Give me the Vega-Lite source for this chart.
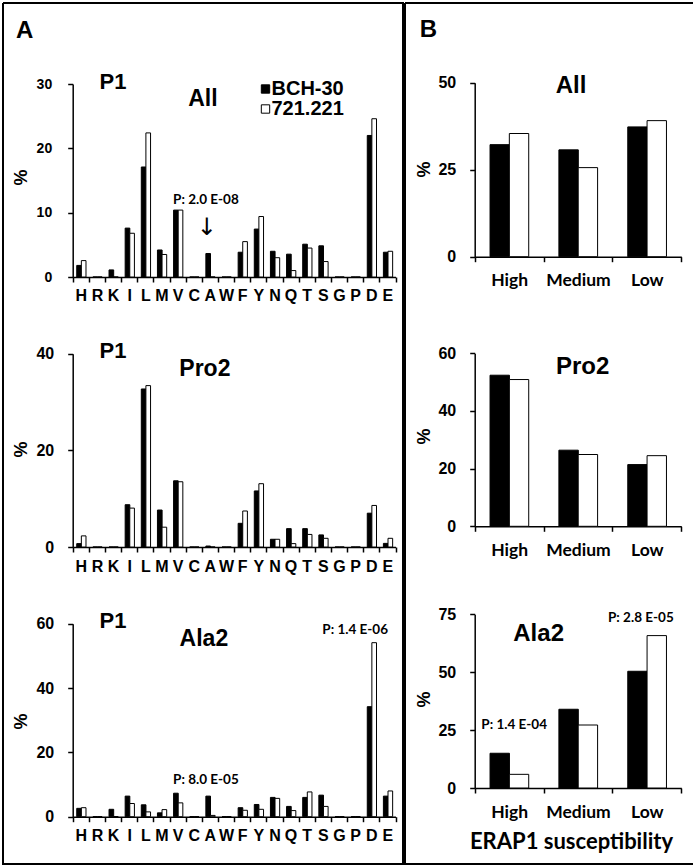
{
  "$schema": "https://vega.github.io/schema/vega-lite/v6.json",
  "padding": {"left": 2, "top": 2, "right": 0, "bottom": 0},
  "background": "white",
  "datasets": {
    "a_all": [
      {"aa":"H","strain":"BCH-30","pct":1.8},{"aa":"H","strain":"721.221","pct":2.55},
      {"aa":"R","strain":"BCH-30","pct":0},{"aa":"R","strain":"721.221","pct":0},
      {"aa":"K","strain":"BCH-30","pct":1.1},{"aa":"K","strain":"721.221","pct":0},
      {"aa":"I","strain":"BCH-30","pct":7.6},{"aa":"I","strain":"721.221","pct":6.8},
      {"aa":"L","strain":"BCH-30","pct":17.1},{"aa":"L","strain":"721.221","pct":22.4},
      {"aa":"M","strain":"BCH-30","pct":4.2},{"aa":"M","strain":"721.221","pct":3.5},
      {"aa":"V","strain":"BCH-30","pct":10.4},{"aa":"V","strain":"721.221","pct":10.4},
      {"aa":"C","strain":"BCH-30","pct":0},{"aa":"C","strain":"721.221","pct":0},
      {"aa":"A","strain":"BCH-30","pct":3.65},{"aa":"A","strain":"721.221","pct":0},
      {"aa":"W","strain":"BCH-30","pct":0},{"aa":"W","strain":"721.221","pct":0},
      {"aa":"F","strain":"BCH-30","pct":3.85},{"aa":"F","strain":"721.221","pct":5.5},
      {"aa":"Y","strain":"BCH-30","pct":7.45},{"aa":"Y","strain":"721.221","pct":9.4},
      {"aa":"N","strain":"BCH-30","pct":4.0},{"aa":"N","strain":"721.221","pct":3.0},
      {"aa":"Q","strain":"BCH-30","pct":3.55},{"aa":"Q","strain":"721.221","pct":1.0},
      {"aa":"T","strain":"BCH-30","pct":5.1},{"aa":"T","strain":"721.221","pct":4.5},
      {"aa":"S","strain":"BCH-30","pct":4.85},{"aa":"S","strain":"721.221","pct":2.4},
      {"aa":"G","strain":"BCH-30","pct":0},{"aa":"G","strain":"721.221","pct":0},
      {"aa":"P","strain":"BCH-30","pct":0},{"aa":"P","strain":"721.221","pct":0},
      {"aa":"D","strain":"BCH-30","pct":22.0},{"aa":"D","strain":"721.221","pct":24.6},
      {"aa":"E","strain":"BCH-30","pct":3.85},{"aa":"E","strain":"721.221","pct":4.0}
    ],
    "a_pro2": [
      {"aa":"H","strain":"BCH-30","pct":0.7},{"aa":"H","strain":"721.221","pct":2.3},
      {"aa":"R","strain":"BCH-30","pct":0},{"aa":"R","strain":"721.221","pct":0},
      {"aa":"K","strain":"BCH-30","pct":0},{"aa":"K","strain":"721.221","pct":0},
      {"aa":"I","strain":"BCH-30","pct":8.75},{"aa":"I","strain":"721.221","pct":8.05},
      {"aa":"L","strain":"BCH-30","pct":32.7},{"aa":"L","strain":"721.221","pct":33.4},
      {"aa":"M","strain":"BCH-30","pct":7.65},{"aa":"M","strain":"721.221","pct":4.1},
      {"aa":"V","strain":"BCH-30","pct":13.7},{"aa":"V","strain":"721.221","pct":13.5},
      {"aa":"C","strain":"BCH-30","pct":0},{"aa":"C","strain":"721.221","pct":0},
      {"aa":"A","strain":"BCH-30","pct":0.2},{"aa":"A","strain":"721.221","pct":0},
      {"aa":"W","strain":"BCH-30","pct":0},{"aa":"W","strain":"721.221","pct":0},
      {"aa":"F","strain":"BCH-30","pct":4.9},{"aa":"F","strain":"721.221","pct":7.45},
      {"aa":"Y","strain":"BCH-30","pct":11.6},{"aa":"Y","strain":"721.221","pct":13.1},
      {"aa":"N","strain":"BCH-30","pct":1.6},{"aa":"N","strain":"721.221","pct":1.6},
      {"aa":"Q","strain":"BCH-30","pct":3.8},{"aa":"Q","strain":"721.221","pct":0.7},
      {"aa":"T","strain":"BCH-30","pct":3.8},{"aa":"T","strain":"721.221","pct":2.6},
      {"aa":"S","strain":"BCH-30","pct":2.5},{"aa":"S","strain":"721.221","pct":1.8},
      {"aa":"G","strain":"BCH-30","pct":0},{"aa":"G","strain":"721.221","pct":0},
      {"aa":"P","strain":"BCH-30","pct":0},{"aa":"P","strain":"721.221","pct":0},
      {"aa":"D","strain":"BCH-30","pct":7.0},{"aa":"D","strain":"721.221","pct":8.6},
      {"aa":"E","strain":"BCH-30","pct":0.75},{"aa":"E","strain":"721.221","pct":1.8}
    ],
    "a_ala2": [
      {"aa":"H","strain":"BCH-30","pct":2.6},{"aa":"H","strain":"721.221","pct":2.8},
      {"aa":"R","strain":"BCH-30","pct":0},{"aa":"R","strain":"721.221","pct":0},
      {"aa":"K","strain":"BCH-30","pct":2.3},{"aa":"K","strain":"721.221","pct":0},
      {"aa":"I","strain":"BCH-30","pct":6.4},{"aa":"I","strain":"721.221","pct":4.1},
      {"aa":"L","strain":"BCH-30","pct":3.7},{"aa":"L","strain":"721.221","pct":1.5},
      {"aa":"M","strain":"BCH-30","pct":1.2},{"aa":"M","strain":"721.221","pct":2.2},
      {"aa":"V","strain":"BCH-30","pct":7.3},{"aa":"V","strain":"721.221","pct":4.3},
      {"aa":"C","strain":"BCH-30","pct":0},{"aa":"C","strain":"721.221","pct":0},
      {"aa":"A","strain":"BCH-30","pct":6.4},{"aa":"A","strain":"721.221","pct":0.4},
      {"aa":"W","strain":"BCH-30","pct":0},{"aa":"W","strain":"721.221","pct":0},
      {"aa":"F","strain":"BCH-30","pct":2.8},{"aa":"F","strain":"721.221","pct":2.0},
      {"aa":"Y","strain":"BCH-30","pct":3.8},{"aa":"Y","strain":"721.221","pct":2.3},
      {"aa":"N","strain":"BCH-30","pct":6.0},{"aa":"N","strain":"721.221","pct":5.7},
      {"aa":"Q","strain":"BCH-30","pct":3.2},{"aa":"Q","strain":"721.221","pct":1.9},
      {"aa":"T","strain":"BCH-30","pct":6.0},{"aa":"T","strain":"721.221","pct":7.7},
      {"aa":"S","strain":"BCH-30","pct":6.7},{"aa":"S","strain":"721.221","pct":3.2},
      {"aa":"G","strain":"BCH-30","pct":0},{"aa":"G","strain":"721.221","pct":0},
      {"aa":"P","strain":"BCH-30","pct":0},{"aa":"P","strain":"721.221","pct":0},
      {"aa":"D","strain":"BCH-30","pct":34.2},{"aa":"D","strain":"721.221","pct":54.1},
      {"aa":"E","strain":"BCH-30","pct":6.4},{"aa":"E","strain":"721.221","pct":8.0}
    ],
    "b_all": [
      {"grp":"High","strain":"BCH-30","pct":32.2},{"grp":"High","strain":"721.221","pct":35.4},
      {"grp":"Medium","strain":"BCH-30","pct":30.7},{"grp":"Medium","strain":"721.221","pct":25.6},
      {"grp":"Low","strain":"BCH-30","pct":37.3},{"grp":"Low","strain":"721.221","pct":39.1}
    ],
    "b_pro2": [
      {"grp":"High","strain":"BCH-30","pct":52.4},{"grp":"High","strain":"721.221","pct":50.9},
      {"grp":"Medium","strain":"BCH-30","pct":26.4},{"grp":"Medium","strain":"721.221","pct":24.9},
      {"grp":"Low","strain":"BCH-30","pct":21.4},{"grp":"Low","strain":"721.221","pct":24.5}
    ],
    "b_ala2": [
      {"grp":"High","strain":"BCH-30","pct":15.0},{"grp":"High","strain":"721.221","pct":5.9},
      {"grp":"Medium","strain":"BCH-30","pct":34.0},{"grp":"Medium","strain":"721.221","pct":27.2},
      {"grp":"Low","strain":"BCH-30","pct":50.4},{"grp":"Low","strain":"721.221","pct":65.8}
    ]
  },
  "config": {
    "view": {"stroke": null},
    "concat": {"spacing": 0},
    "axis": {
      "grid": false, "domainColor": "black", "tickColor": "black", "labelColor": "black", "titleColor": "black",
      "labelFont": "Liberation Sans", "labelFontWeight": "bold", "titleFont": "Liberation Sans", "titleFontWeight": "bold",
      "domainWidth": 1.5, "tickWidth": 1.5, "tickSize": 5
    },
    "text": {"font": "Liberation Sans", "fontWeight": "bold", "color": "black"},
    "legend": {"labelFont": "Liberation Sans", "labelFontWeight": "bold", "labelColor": "black"}
  },
  "hconcat": [
    {
      "bounds": "flush",
      "spacing": 0,
      "resolve": {"scale": {"color": "independent"}, "legend": {"color": "independent"}},
      "vconcat": [
        {
          "width": 400, "height": 318,
          "view": {"stroke": "black", "strokeWidth": 2, "strokeDash": [718, 400, 318, 0]},
          "encoding": {
            "x": {"field": "aa", "type": "nominal", "scale": {"domain": ["H","R","K","I","L","M","V","C","A","W","F","Y","N","Q","T","S","G","P","D","E"], "range": [69.7, 392.5], "paddingInner": 0, "paddingOuter": 0},
                  "axis": {"title": null, "labelAngle": 0, "offset": -44, "tickBand": "extent", "labelFontSize": 16, "labelPadding": 5}},
            "y": {"field": "pct", "type": "quantitative", "scale": {"domain": [0, 30], "range": [274, 81], "nice": false},
                  "axis": {"values": [0,10,20,30], "offset": -69.7, "title": "%", "titleX": -51, "titleY": 174, "titleBaseline": "middle", "titleAlign": "center", "titleFontSize": 18, "labelFontSize": 14, "labelPadding": 16}}
          },
          "layer": [
            {
              "data": {"name": "a_all"},
              "transform": [{"filter": "datum.strain === 'BCH-30'"}],
              "mark": {"type": "bar", "stroke": "black", "strokeWidth": 1, "width": {"band": 0.288}, "xOffset": -1.7},
              "encoding": {
                "color": {"field": "strain", "type": "nominal", "scale": {"domain": ["BCH-30","721.221"], "range": ["#000000","#ffffff"]},
                          "legend": {"orient": "none", "legendX": 244.5, "legendY": 76, "title": null, "labelFontSize": 20, "symbolType": "square", "symbolSize": 70, "symbolOffset": 8, "symbolStrokeColor": "black", "symbolStrokeWidth": 1, "rowPadding": 0, "labelOffset": -4}}
              }
            },
            {
              "data": {"name": "a_all"},
              "transform": [{"filter": "datum.strain === '721.221'"}],
              "mark": {"type": "bar", "stroke": "black", "strokeWidth": 1, "width": {"band": 0.288}, "xOffset": 2.9},
              "encoding": {
                "color": {"field": "strain", "type": "nominal", "scale": {"domain": ["BCH-30","721.221"], "range": ["#000000","#ffffff"]},
                          "legend": {"orient": "none", "legendX": 244.5, "legendY": 76, "title": null, "labelFontSize": 20, "symbolType": "square", "symbolSize": 70, "symbolOffset": 8, "symbolStrokeColor": "black", "symbolStrokeWidth": 1, "rowPadding": 0, "labelOffset": -4}}
              }
            },
            {
              "data": {"values": [{"aa": "K", "pct": 29.3, "t": "P1"}]},
              "mark": {"type": "text", "fontSize": 22, "baseline": "alphabetic"},
              "encoding": {"text": {"field": "t"}}
            },
            {
              "data": {"values": [{"aa": "A", "pct": 26.6, "t": "All"}]},
              "mark": {"type": "text", "fontSize": 23, "baseline": "alphabetic", "dx": -7},
              "encoding": {"text": {"field": "t"}}
            },
            {
              "data": {"values": [{"aa": "H", "pct": 37.2, "t": "A"}]},
              "mark": {"type": "text", "fontSize": 24, "baseline": "alphabetic", "dx": -56},
              "encoding": {"text": {"field": "t"}}
            },
            {
              "data": {"values": [{"aa": "A", "pct": 11.35, "t": "P: 2.0 E-08"}]},
              "mark": {"type": "text", "font": "Lato", "fontSize": 13.5, "baseline": "alphabetic", "dx": -4},
              "encoding": {"text": {"field": "t"}}
            },
            {
              "data": {"values": [{"aa": "A", "pct": 7.54, "t": "↓"}]},
              "mark": {"type": "text", "font": "DejaVu Sans", "fontWeight": "normal", "fontSize": 24, "baseline": "middle", "dx": -3},
              "encoding": {"text": {"field": "t"}}
            }
          ]
        },
        {
          "width": 400, "height": 270,
          "view": {"stroke": "black", "strokeWidth": 2, "strokeDash": [0, 400, 270, 400, 270, 0]},
          "encoding": {
            "x": {"field": "aa", "type": "nominal", "scale": {"domain": ["H","R","K","I","L","M","V","C","A","W","F","Y","N","Q","T","S","G","P","D","E"], "range": [69.7, 392.5], "paddingInner": 0, "paddingOuter": 0},
                  "axis": {"title": null, "labelAngle": 0, "offset": -44, "tickBand": "extent", "labelFontSize": 16, "labelPadding": 6}},
            "y": {"field": "pct", "type": "quantitative", "scale": {"domain": [0, 40], "range": [226, 32.7], "nice": false},
                  "axis": {"values": [0,20,40], "offset": -69.7, "title": "%", "titleX": -51, "titleY": 128, "titleBaseline": "middle", "titleAlign": "center", "titleFontSize": 18, "labelFontSize": 16, "labelPadding": 14}}
          },
          "layer": [
            {
              "data": {"name": "a_pro2"},
              "transform": [{"filter": "datum.strain === 'BCH-30'"}],
              "mark": {"type": "bar", "stroke": "black", "strokeWidth": 1, "width": {"band": 0.288}, "xOffset": -1.7},
              "encoding": {"color": {"field": "strain", "type": "nominal", "scale": {"domain": ["BCH-30","721.221"], "range": ["#000000","#ffffff"]}, "legend": null}}
            },
            {
              "data": {"name": "a_pro2"},
              "transform": [{"filter": "datum.strain === '721.221'"}],
              "mark": {"type": "bar", "stroke": "black", "strokeWidth": 1, "width": {"band": 0.288}, "xOffset": 2.9},
              "encoding": {"color": {"field": "strain", "type": "nominal", "scale": {"domain": ["BCH-30","721.221"], "range": ["#000000","#ffffff"]}, "legend": null}}
            },
            {
              "data": {"values": [{"aa": "K", "pct": 39.2, "t": "P1"}]},
              "mark": {"type": "text", "fontSize": 22, "baseline": "alphabetic"},
              "encoding": {"text": {"field": "t"}}
            },
            {
              "data": {"values": [{"aa": "A", "pct": 35.4, "t": "Pro2"}]},
              "mark": {"type": "text", "fontSize": 23, "baseline": "alphabetic", "dx": -5},
              "encoding": {"text": {"field": "t"}}
            }
          ]
        },
        {
          "width": 400, "height": 273,
          "view": {"stroke": "black", "strokeWidth": 2, "strokeDash": [0, 400, 946, 0]},
          "encoding": {
            "x": {"field": "aa", "type": "nominal", "scale": {"domain": ["H","R","K","I","L","M","V","C","A","W","F","Y","N","Q","T","S","G","P","D","E"], "range": [69.7, 392.5], "paddingInner": 0, "paddingOuter": 0},
                  "axis": {"title": null, "labelAngle": 0, "offset": -47.3, "tickBand": "extent", "labelFontSize": 16, "labelPadding": 6}},
            "y": {"field": "pct", "type": "quantitative", "scale": {"domain": [0, 60], "range": [225.7, 32.7], "nice": false},
                  "axis": {"values": [0,20,40,60], "offset": -69.7, "title": "%", "titleX": -51, "titleY": 130, "titleBaseline": "middle", "titleAlign": "center", "titleFontSize": 18, "labelFontSize": 16, "labelPadding": 14}}
          },
          "layer": [
            {
              "data": {"name": "a_ala2"},
              "transform": [{"filter": "datum.strain === 'BCH-30'"}],
              "mark": {"type": "bar", "stroke": "black", "strokeWidth": 1, "width": {"band": 0.288}, "xOffset": -1.7},
              "encoding": {"color": {"field": "strain", "type": "nominal", "scale": {"domain": ["BCH-30","721.221"], "range": ["#000000","#ffffff"]}, "legend": null}}
            },
            {
              "data": {"name": "a_ala2"},
              "transform": [{"filter": "datum.strain === '721.221'"}],
              "mark": {"type": "bar", "stroke": "black", "strokeWidth": 1, "width": {"band": 0.288}, "xOffset": 2.9},
              "encoding": {"color": {"field": "strain", "type": "nominal", "scale": {"domain": ["BCH-30","721.221"], "range": ["#000000","#ffffff"]}, "legend": null}}
            },
            {
              "data": {"values": [{"aa": "K", "pct": 58.8, "t": "P1"}]},
              "mark": {"type": "text", "fontSize": 22, "baseline": "alphabetic"},
              "encoding": {"text": {"field": "t"}}
            },
            {
              "data": {"values": [{"aa": "A", "pct": 53.1, "t": "Ala2"}]},
              "mark": {"type": "text", "fontSize": 23, "baseline": "alphabetic", "dx": -6},
              "encoding": {"text": {"field": "t"}}
            },
            {
              "data": {"values": [{"aa": "A", "pct": 10.3, "t": "P: 8.0 E-05"}]},
              "mark": {"type": "text", "font": "Lato", "fontSize": 13.5, "baseline": "alphabetic", "dx": -4},
              "encoding": {"text": {"field": "t"}}
            },
            {
              "data": {"values": [{"aa": "P", "pct": 56.9, "t": "P: 1.4 E-06"}]},
              "mark": {"type": "text", "font": "Lato", "fontSize": 13.5, "baseline": "alphabetic"},
              "encoding": {"text": {"field": "t"}}
            }
          ]
        }
      ]
    },
    {
      "bounds": "flush",
      "spacing": 0,
      "resolve": {"scale": {"color": "independent"}, "legend": {"color": "independent"}},
      "vconcat": [
        {
          "width": 289, "height": 318,
          "view": {"stroke": "black", "strokeWidth": 2, "strokeDash": [607, 289, 318, 0]},
          "encoding": {
            "x": {"field": "grp", "type": "nominal", "scale": {"domain": ["High","Medium","Low"], "range": [69.7, 276.3], "paddingInner": 0, "paddingOuter": 0},
                  "axis": {"title": null, "labelAngle": 0, "offset": -64.3, "tickBand": "extent", "labelFont": "Lato", "labelFontSize": 17.5, "labelPadding": 10}},
            "y": {"field": "pct", "type": "quantitative", "scale": {"domain": [0, 50], "range": [253.7, 79.7], "nice": false},
                  "axis": {"values": [0,25,50], "offset": -69.7, "title": "%", "titleX": -50, "titleY": 166, "titleBaseline": "middle", "titleAlign": "center", "titleFontSize": 18, "labelFontSize": 16, "labelPadding": 14}}
          },
          "layer": [
            {
              "data": {"name": "b_all"},
              "transform": [{"filter": "datum.strain === 'BCH-30'"}],
              "mark": {"type": "bar", "stroke": "black", "strokeWidth": 1, "width": {"band": 0.2817}, "xOffset": -9.4},
              "encoding": {"color": {"field": "strain", "type": "nominal", "scale": {"domain": ["BCH-30","721.221"], "range": ["#000000","#ffffff"]}, "legend": null}}
            },
            {
              "data": {"name": "b_all"},
              "transform": [{"filter": "datum.strain === '721.221'"}],
              "mark": {"type": "bar", "stroke": "black", "strokeWidth": 1, "width": {"band": 0.2817}, "xOffset": 9.9},
              "encoding": {"color": {"field": "strain", "type": "nominal", "scale": {"domain": ["BCH-30","721.221"], "range": ["#000000","#ffffff"]}, "legend": null}}
            },
            {
              "data": {"values": [{"grp": "Medium", "pct": 47.1, "t": "All"}]},
              "mark": {"type": "text", "fontSize": 24, "baseline": "alphabetic", "dx": -7},
              "encoding": {"text": {"field": "t"}}
            },
            {
              "data": {"values": [{"grp": "High", "pct": 63.1, "t": "B"}]},
              "mark": {"type": "text", "fontSize": 24, "baseline": "alphabetic", "dx": -80.6},
              "encoding": {"text": {"field": "t"}}
            }
          ]
        },
        {
          "width": 289, "height": 270,
          "view": {"stroke": "black", "strokeWidth": 2, "strokeDash": [0, 289, 270, 289, 270, 0]},
          "encoding": {
            "x": {"field": "grp", "type": "nominal", "scale": {"domain": ["High","Medium","Low"], "range": [69.7, 276.3], "paddingInner": 0, "paddingOuter": 0},
                  "axis": {"title": null, "labelAngle": 0, "offset": -64.7, "tickBand": "extent", "labelFont": "Lato", "labelFontSize": 17.5, "labelPadding": 10}},
            "y": {"field": "pct", "type": "quantitative", "scale": {"domain": [0, 60], "range": [205.3, 32.3], "nice": false},
                  "axis": {"values": [0,20,40,60], "offset": -69.7, "title": "%", "titleX": -50, "titleY": 115, "titleBaseline": "middle", "titleAlign": "center", "titleFontSize": 18, "labelFontSize": 16, "labelPadding": 14}}
          },
          "layer": [
            {
              "data": {"name": "b_pro2"},
              "transform": [{"filter": "datum.strain === 'BCH-30'"}],
              "mark": {"type": "bar", "stroke": "black", "strokeWidth": 1, "width": {"band": 0.2817}, "xOffset": -9.4},
              "encoding": {"color": {"field": "strain", "type": "nominal", "scale": {"domain": ["BCH-30","721.221"], "range": ["#000000","#ffffff"]}, "legend": null}}
            },
            {
              "data": {"name": "b_pro2"},
              "transform": [{"filter": "datum.strain === '721.221'"}],
              "mark": {"type": "bar", "stroke": "black", "strokeWidth": 1, "width": {"band": 0.2817}, "xOffset": 9.9},
              "encoding": {"color": {"field": "strain", "type": "nominal", "scale": {"domain": ["BCH-30","721.221"], "range": ["#000000","#ffffff"]}, "legend": null}}
            },
            {
              "data": {"values": [{"grp": "Medium", "pct": 52.9, "t": "Pro2"}]},
              "mark": {"type": "text", "fontSize": 24, "baseline": "alphabetic", "dx": 4.6},
              "encoding": {"text": {"field": "t"}}
            }
          ]
        },
        {
          "width": 289, "height": 273,
          "view": {"stroke": "black", "strokeWidth": 2, "strokeDash": [0, 289, 835, 0]},
          "encoding": {
            "x": {"field": "grp", "type": "nominal", "scale": {"domain": ["High","Medium","Low"], "range": [69.7, 276.3], "paddingInner": 0, "paddingOuter": 0},
                  "axis": {"title": "ERAP1 susceptibility", "titleFont": "Lato", "titleFontSize": 22, "titleX": 166, "titleY": 60, "titleBaseline": "alphabetic", "titleAlign": "center", "labelAngle": 0, "offset": -76, "tickBand": "extent", "labelFont": "Lato", "labelFontSize": 17.5, "labelPadding": 10}},
            "y": {"field": "pct", "type": "quantitative", "scale": {"domain": [0, 75], "range": [197, 23.3], "nice": false},
                  "axis": {"values": [0,25,50,75], "offset": -69.7, "title": "%", "titleX": -50, "titleY": 108, "titleBaseline": "middle", "titleAlign": "center", "titleFontSize": 18, "labelFontSize": 16, "labelPadding": 14}}
          },
          "layer": [
            {
              "data": {"name": "b_ala2"},
              "transform": [{"filter": "datum.strain === 'BCH-30'"}],
              "mark": {"type": "bar", "stroke": "black", "strokeWidth": 1, "width": {"band": 0.2817}, "xOffset": -9.4},
              "encoding": {"color": {"field": "strain", "type": "nominal", "scale": {"domain": ["BCH-30","721.221"], "range": ["#000000","#ffffff"]}, "legend": null}}
            },
            {
              "data": {"name": "b_ala2"},
              "transform": [{"filter": "datum.strain === '721.221'"}],
              "mark": {"type": "bar", "stroke": "black", "strokeWidth": 1, "width": {"band": 0.2817}, "xOffset": 9.9},
              "encoding": {"color": {"field": "strain", "type": "nominal", "scale": {"domain": ["BCH-30","721.221"], "range": ["#000000","#ffffff"]}, "legend": null}}
            },
            {
              "data": {"values": [{"grp": "High", "pct": 63.5, "t": "Ala2"}]},
              "mark": {"type": "text", "fontSize": 24, "baseline": "alphabetic", "dx": 29.5},
              "encoding": {"text": {"field": "t"}}
            },
            {
              "data": {"values": [{"grp": "High", "pct": 25.5, "t": "P: 1.4 E-04"}]},
              "mark": {"type": "text", "font": "Lato", "fontSize": 13.5, "baseline": "alphabetic", "dx": 5},
              "encoding": {"text": {"field": "t"}}
            },
            {
              "data": {"values": [{"grp": "Low", "pct": 71.8, "t": "P: 2.8 E-05"}]},
              "mark": {"type": "text", "font": "Lato", "fontSize": 13.5, "baseline": "alphabetic", "dx": -6},
              "encoding": {"text": {"field": "t"}}
            }
          ]
        }
      ]
    }
  ]
}
